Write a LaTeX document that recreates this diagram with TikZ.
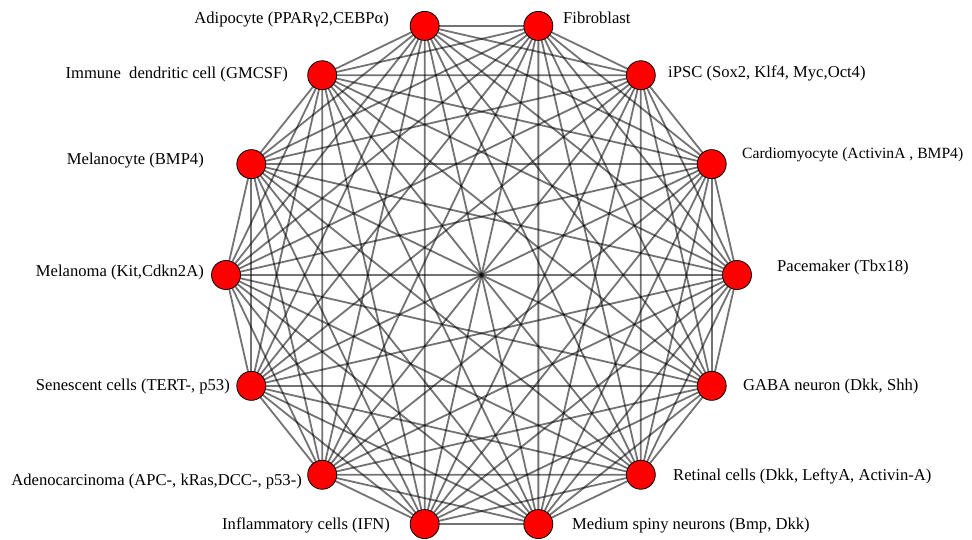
\documentclass[tikz,border=0pt]{standalone}
\usepackage{fontspec}
\setmainfont{Liberation Serif}
\usetikzlibrary{backgrounds}
\begin{document}
\begin{tikzpicture}[x=1pt,y=1pt,
  cell/.style={circle,draw=black,line width=0.8pt,fill=red,minimum size=29pt,inner sep=0pt},
  lbl/.style={font=\fontsize{16.6}{19}\selectfont,inner sep=0pt},
  edge/.style={draw=black,draw opacity=0.55,line width=1.8pt}]
\useasboundingbox (0,0) rectangle (972,540);
\def\cx{481.5}\def\cy{265}\def\R{255.5}
\foreach \k in {0,...,13}{
  \node[cell] (n\k) at ({\cx+\R*cos(\k*360/14)},{\cy+\R*sin(\k*360/14)}) {};
}
\begin{scope}[on background layer]
\foreach \i in {0,...,12}{
  \pgfmathtruncatemacro{\s}{\i+1}
  \foreach \j in {\s,...,13}{
    \draw[edge] (n\i.center) -- (n\j.center);
  }
}
\end{scope}
\node[lbl,anchor=west] (l0) at (777,272) {Pacemaker (Tbx18)};
\node[lbl,anchor=west,font=\fontsize{15.6}{19}\selectfont] (l1) at (742,385) {Cardiomyocyte (ActivinA , BMP4)};
\node[lbl,anchor=west] (l2) at (668,467) {iPSC (Sox2, Klf4, Myc,Oct4)};
\node[lbl,anchor=west] (l3) at (563,522) {Fibroblast};
\node[lbl,anchor=east] (l4) at (389,520) {Adipocyte (PPARγ2,CEBPα)};
\node[lbl,anchor=east] (l5) at (288,465) {Immune\ \ dendritic cell (GMCSF)};
\node[lbl,anchor=east] (l6) at (204,379) {Melanocyte (BMP4)};
\node[lbl,anchor=east] (l7) at (204,267) {Melanoma (Kit,Cdkn2A)};
\node[lbl,anchor=east] (l8) at (230,153) {Senescent cells (TERT-, p53)};
\node[lbl,anchor=east] (l9) at (302,58) {Adenocarcinoma (APC-, kRas,DCC-, p53-)};
\node[lbl,anchor=west] (l10) at (222,15) {Inflammatory cells (IFN)};
\node[lbl,anchor=west] (l11) at (572,14) {Medium spiny neurons (Bmp, Dkk)};
\node[lbl,anchor=west] (l12) at (673,64) {Retinal cells (Dkk, LeftyA, Activin-A)};
\node[lbl,anchor=west] (l13) at (743,153) {GABA neuron (Dkk, Shh)};
\end{tikzpicture}
\end{document}
